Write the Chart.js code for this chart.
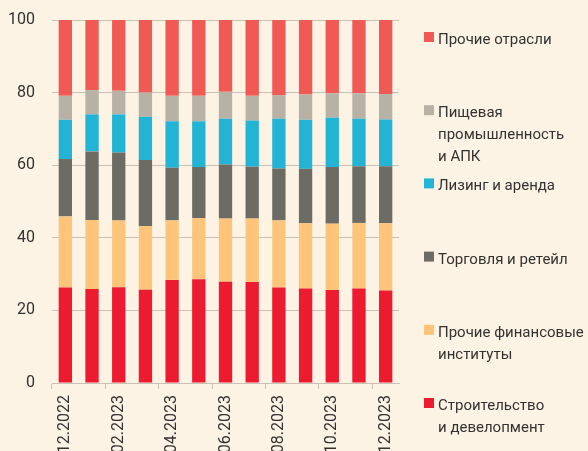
<!DOCTYPE html>
<html>
<head>
<meta charset="utf-8">
<script src="https://cdn.jsdelivr.net/npm/chart.js@4"></script>
<style>
  body { margin: 0; background: #fdf3e4; }
</style>
</head>
<body>
<canvas id="myChart" width="588" height="451"></canvas>
<script>
const months = [
    '12.2022', '01.2023', '02.2023', '03.2023', '04.2023', '05.2023', '06.2023',
    '07.2023', '08.2023', '09.2023', '10.2023', '11.2023', '12.2023',
];

// shares, % (bottom to top)
const construction = [26.3, 25.9, 26.4, 25.7, 28.4, 28.6, 27.9, 27.8, 26.3, 26.0, 25.6, 26.0, 25.5];
const otherFinance = [19.6, 19.0, 18.4, 17.5, 16.4, 16.8, 17.4, 17.5, 18.5, 18.0, 18.3, 18.1, 18.5];
const trade = [15.8, 18.9, 18.7, 18.2, 14.5, 14.1, 14.9, 14.3, 14.3, 15.0, 15.6, 15.6, 15.7];
const leasing = [10.8, 10.2, 10.5, 11.9, 12.8, 12.6, 12.6, 12.7, 13.7, 13.5, 13.6, 13.1, 12.9];
const food = [6.6, 6.7, 6.5, 6.7, 7.0, 7.0, 7.4, 6.8, 6.5, 7.0, 6.7, 7.0, 7.0];
const otherIndustries = [20.9, 19.3, 19.5, 20.0, 20.9, 20.9, 19.8, 20.9, 20.7, 20.5, 20.2, 20.2, 20.4];

const yTicks = [0, 20, 40, 60, 80, 100];

const gridColor = '#c9c1b6';
const textColor = '#333230';

// legend on the right, top entry = top of the stack
const sideLegend = {
    id: 'sideLegend',
    afterDraw(chart) {
        const ctx = chart.ctx;
        const sets = chart.data.datasets.slice().reverse();
        ctx.save();
        ctx.font = '15px Roboto';
        ctx.textBaseline = 'alphabetic';
        sets.forEach((ds, i) => {
            const top = 32 + i * 73.2;
            ctx.fillStyle = ds.backgroundColor;
            ctx.fillRect(424, top, 10, 10);
            ctx.fillStyle = textColor;
            ds.label.split('\n').forEach((line, j) => {
                ctx.fillText(line, 438, top + 12 + j * 22);
            });
        });
        ctx.restore();
    }
};

new Chart(document.getElementById('myChart'), {
    type: 'bar',
    data: {
        labels: months,
        datasets: [
            { label: 'Строительство\nи девелопмент', data: construction, backgroundColor: '#ec1b30' },
            { label: 'Прочие финансовые\nинституты', data: otherFinance, backgroundColor: '#fdc47a' },
            { label: 'Торговля и ретейл', data: trade, backgroundColor: '#6d6c64' },
            { label: 'Лизинг и аренда', data: leasing, backgroundColor: '#23b3d5' },
            { label: 'Пищевая\nпромышленность\nи АПК', data: food, backgroundColor: '#b8b1a6' },
            { label: 'Прочие отрасли', data: otherIndustries, backgroundColor: '#f05a55' },
        ],
    },
    options: {
        responsive: false,
        animation: false,
        devicePixelRatio: 1,
        layout: { padding: { top: 20, right: 189, left: 0, bottom: 0 } },
        datasets: { bar: { barPercentage: 0.5, categoryPercentage: 1, borderWidth: 0 } },
        plugins: {
            legend: { display: false },
            tooltip: { enabled: false },
        },
        scales: {
            x: {
                stacked: true,
                afterFit: (scale) => {
                    scale.height = 68;
                    scale.paddingLeft = 0;
                    scale.paddingRight = 0;
                },
                border: { display: true, color: gridColor, width: 1 },
                grid: {
                    offset: true,
                    drawOnChartArea: false,
                    drawTicks: true,
                    tickLength: 6,
                    tickColor: (ctx) => ctx.index % 2 === 0 ? gridColor : 'rgba(0,0,0,0)',
                },
                ticks: {
                    autoSkip: false,
                    minRotation: 90,
                    maxRotation: 90,
                    padding: 6,
                    color: textColor,
                    font: { family: 'Roboto', size: 16 },
                    callback: function(value, index) {
                        return index % 2 === 0 ? this.getLabelForValue(value) : '';
                    },
                },
            },
            y: {
                stacked: true,
                min: 0,
                max: 100,
                afterFit: (scale) => {
                    scale.width = 52;
                    scale.paddingTop = 0;
                    scale.paddingBottom = 0;
                },
                afterBuildTicks: (scale) => { scale.ticks = yTicks.map(v => ({ value: v })); },
                border: { display: false },
                grid: { color: gridColor, drawTicks: false },
                ticks: {
                    padding: 17,
                    color: textColor,
                    font: { family: 'Roboto', size: 16 },
                },
            },
        },
    },
    plugins: [sideLegend],
});
</script>
</body>
</html>
